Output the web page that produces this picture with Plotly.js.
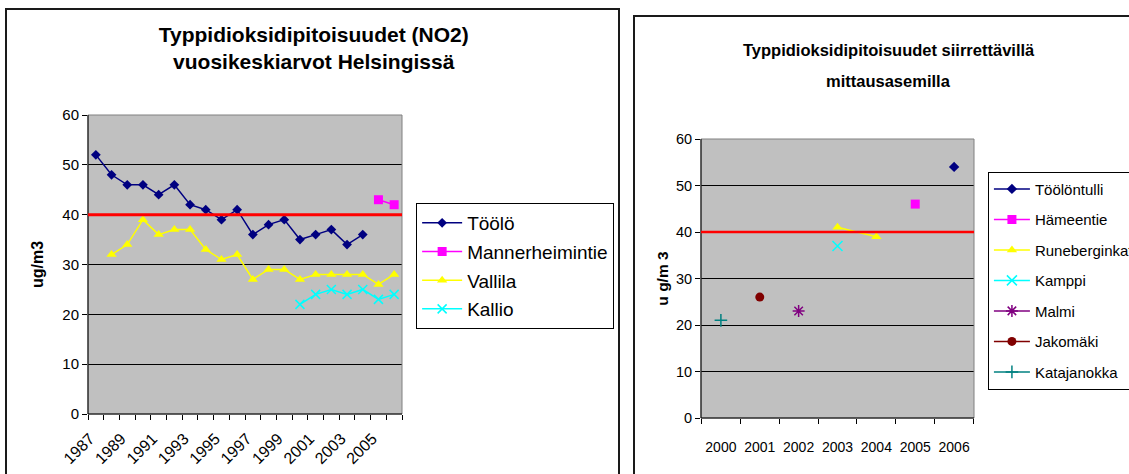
<!DOCTYPE html>
<html>
<head>
<meta charset="utf-8">
<script src="https://cdn.plot.ly/plotly-3.0.1.min.js"></script>
<style>
  html, body { margin: 0; padding: 0; width: 1129px; height: 474px; overflow: hidden; background: #fff; }
  .frame { position: absolute; box-sizing: border-box; border: 2px solid #1a1a1a; background: #fff; overflow: hidden; }
  #f1 { left: 5px; top: 8px; width: 615px; height: 484px; }
  #f2 { left: 633px; top: 15px; width: 544px; height: 484px; }
</style>
</head>
<body>
<div class="frame" id="f1"><div id="c1"></div></div>
<div class="frame" id="f2"><div id="c2"></div></div>
<script>
// ---------- Chart 1 data ----------
const years1 = [1987,1988,1989,1990,1991,1992,1993,1994,1995,1996,
                1997,1998,1999,2000,2001,2002,2003,2004,2005,2006];
const tickLabels1 = ['1987','1989','1991','1993','1995','1997','1999','2001','2003','2005'];
const toolo = [52,48,46,46,44,46,42,41,39,41,36,38,39,35,36,37,34,36,null,null];
const mannerheimintie = [null,null,null,null,null,null,null,null,null,null,
                         null,null,null,null,null,null,null,null,43,42];
const vallila = [null,32,34,39,36,37,37,33,31,32,27,29,29,27,28,28,28,28,26,28];
const kallio = [null,null,null,null,null,null,null,null,null,null,
                null,null,null,22,24,25,24,25,23,24];

// ---------- Chart 2 data ----------
const years2 = ['2000','2001','2002','2003','2004','2005','2006'];
const toolontulli    = [null,null,null,null,null,null,54];
const hameentie      = [null,null,null,null,null,46,null];
const runeberginkatu = [null,null,null,41,39,null,null];
const kamppi         = [null,null,null,37,null,null,null];
const malmi          = [null,null,23,null,null,null,null];
const jakomaki       = [null,26,null,null,null,null,null];
const katajanokka    = [21,null,null,null,null,null,null];

const limitValue = 40;

const F1 = 'Liberation Sans, Arial, sans-serif';

function frameShapes(redWidth) {
  return [
    {type:'rect', xref:'paper', yref:'paper', x0:0, x1:1, y0:0, y1:1,
     line:{color:'#808080', width:1}, fillcolor:'rgba(0,0,0,0)', layer:'above'},
    {type:'line', xref:'paper', yref:'paper', x0:0, x1:0, y0:0, y1:1,
     line:{color:'#000', width:1}, layer:'above'},
    {type:'line', xref:'paper', yref:'paper', x0:0, x1:1, y0:0, y1:0,
     line:{color:'#000', width:1}, layer:'above'},
    {type:'line', xref:'paper', x0:0, x1:1, yref:'y', y0:limitValue, y1:limitValue,
     line:{color:'#FF0000', width:redWidth}, layer:'above'}
  ];
}

function tr(name, x, y, color, symbol, size, group, thin) {
  const m = {color: color, size: size, symbol: symbol};
  if (thin) m.line = {color: color, width: 1.5};
  return {type:'scatter', mode:'lines+markers', name: name, x: x, y: y,
          line:{color: color, width: 1.5}, marker: m, legendgroup: group,
          connectgaps: false, cliponaxis: false};
}

const data1 = [
  tr('Töölö', years1, toolo, '#000080', 'diamond', 7.5, 'a'),
  tr('Mannerheimintie', years1, mannerheimintie, '#FF00FF', 'square', 9, 'b'),
  tr('Vallila', years1, vallila, '#FFFF00', 'triangle-up', 9, 'c'),
  tr('Kallio', years1, kallio, '#00FFFF', 'x-thin', 9, 'd', true)
];

const layout1 = {
  width: 611, height: 480,
  margin: {l:81, r:216, t:105, b:76, autoexpand:false},
  paper_bgcolor: '#fff', plot_bgcolor: '#C0C0C0',
  font: {family: F1, size: 15, color: '#000'},
  title: {text: '<b>Typpidioksidipitoisuudet (NO2)<br>vuosikeskiarvot Helsingissä</b>',
          font: {family: F1, size: 21, color: '#000'},
          x: 0.502, xref: 'container', xanchor: 'center',
          y: 0.933, yref: 'container', yanchor: 'top'},
  xaxis: {type:'linear', range:[1986.5, 2006.5], tickmode:'array',
          tickvals: tickLabels1.map(Number), ticktext: tickLabels1,
          ticks:'outside', ticklen:0, tickangle:-45,
          ticklabelshift:-6, ticklabelstandoff:8,
          minor:{tickmode:'linear', tick0:1986.5, dtick:1, ticks:'outside', ticklen:5,
                 tickcolor:'#000', showgrid:false},
          showgrid:false, zeroline:false, showline:false, automargin:false,
          tickfont:{family:F1, size:16}, fixedrange:true},
  yaxis: {range:[0,60], tickmode:'linear', tick0:0, dtick:10, ticks:'outside', ticklen:5,
          tickcolor:'#000', gridcolor:'#000', gridwidth:1, zeroline:false, showline:false,
          tickfont:{family:F1, size:15}, fixedrange:true, automargin:false,
          title:{text:'<b>ug/m3</b>', font:{family:F1, size:16}, standoff:14}},
  legend: {x:1.045, xanchor:'left', y:0.706, yanchor:'top', bordercolor:'#000', borderwidth:1,
           bgcolor:'#fff', font:{family:F1, size:19}, traceorder:'grouped', tracegroupgap:1,
           itemwidth:40},
  showlegend: true,
  shapes: frameShapes(3)
};

const data2 = [
  tr('Töölöntulli', years2, toolontulli, '#000080', 'diamond', 8, 'a'),
  tr('Hämeentie', years2, hameentie, '#FF00FF', 'square', 9, 'b'),
  tr('Runeberginkatu', years2, runeberginkatu, '#FFFF00', 'triangle-up', 9, 'c'),
  tr('Kamppi', years2, kamppi, '#00FFFF', 'x-thin', 10, 'd', true),
  tr('Malmi', years2, malmi, '#800080', 'asterisk', 10, 'e', true),
  tr('Jakomäki', years2, jakomaki, '#800000', 'circle', 9, 'f'),
  tr('Katajanokka', years2, katajanokka, '#008080', 'cross-thin', 9, 'g', true)
];

const layout2 = {
  width: 540, height: 480,
  margin: {l:66, r:201, t:122, b:79, autoexpand:false},
  paper_bgcolor: '#fff', plot_bgcolor: '#C0C0C0',
  font: {family: F1, size: 15, color: '#000'},
  xaxis: {type:'category', tickson:'boundaries', ticks:'outside', ticklen:5, tickcolor:'#000',
          tickangle:0, showgrid:false, zeroline:false, showline:false, ticklabelstandoff:19,
          tickfont:{family:F1, size:14}, fixedrange:true, automargin:false},
  yaxis: {range:[0,60], tickmode:'linear', tick0:0, dtick:10, ticks:'outside', ticklen:5,
          tickcolor:'#000', gridcolor:'#000', gridwidth:1, zeroline:false, showline:false,
          tickfont:{family:F1, size:14.5}, fixedrange:true, automargin:false,
          title:{text:'<b>u g/m 3</b>', font:{family:F1, size:15.5}, standoff:3}},
  legend: {x:1.051, xanchor:'left', y:0.883, yanchor:'top', bordercolor:'#000', borderwidth:1,
           bgcolor:'#fff', font:{family:F1, size:15}, traceorder:'grouped', tracegroupgap:8,
           itemwidth:36},
  showlegend: true,
  annotations: [
    {text:'<b>Typpidioksidipitoisuudet siirrettävillä</b>', xref:'paper', yref:'paper',
     x:0.688, y:1.320, xanchor:'center', yanchor:'middle', showarrow:false,
     font:{family:F1, size:16.5, color:'#000'}},
    {text:'<b>mittausasemilla</b>', xref:'paper', yref:'paper',
     x:0.688, y:1.209, xanchor:'center', yanchor:'middle', showarrow:false,
     font:{family:F1, size:16.5, color:'#000'}}
  ],
  shapes: frameShapes(2.5)
};

const cfg = {displayModeBar:false, staticPlot:true};
Plotly.newPlot('c1', data1, layout1, cfg);
Plotly.newPlot('c2', data2, layout2, cfg);
</script>
</body>
</html>
